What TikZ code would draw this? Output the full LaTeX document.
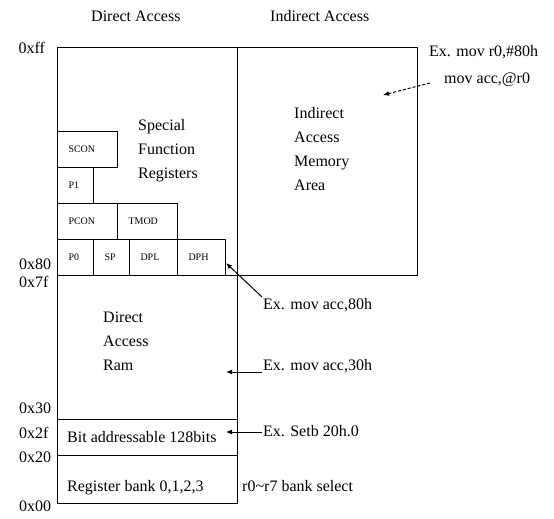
\documentclass[tikz,border=0pt]{standalone}
\usepackage{fontspec}
\setmainfont{Liberation Serif}
\usetikzlibrary{arrows.meta}
\begin{document}
\begin{tikzpicture}[x=1pt,y=-1pt,
  lbl/.style={anchor=base west,inner sep=0pt,font=\fontsize{16}{19}\selectfont},
  regbox/.style={draw,line width=1pt,anchor=north west,inner ysep=0pt,inner xsep=11pt,align=left,font=\fontsize{10}{12}\selectfont},
  area/.style={draw,line width=1pt,anchor=north west,inner sep=0pt},
  arr/.style={line width=1pt,-{Latex[length=6pt,width=5pt]}},
  darr/.style={line width=1pt,dashed,dash pattern=on 3pt off 2pt,-{Latex[length=6pt,width=5pt]}}]
\useasboundingbox (0,0) rectangle (554,519);
% main areas
\node[area,minimum width=180pt,minimum height=456pt] (left) at (57,47) {};
\node[area,minimum width=180pt,minimum height=228pt] (right) at (237,47) {};
\node[area,minimum width=180pt,minimum height=144pt] (dram) at (57,275) {};
\node[area,minimum width=180pt,minimum height=36pt] (bitad) at (57,419) {};
\node[area,minimum width=180pt,minimum height=48pt] (rbank) at (57,455) {};
% SFR boxes
\node[regbox,text width=38pt,minimum height=36pt] (scon) at (57,131) {SCON};
\node[regbox,text width=14pt,minimum height=36pt] (p1) at (57,167) {P1};
\node[regbox,text width=38pt,minimum height=36pt] (pcon) at (57,203) {PCON};
\node[regbox,text width=38pt,minimum height=36pt] (tmod) at (117,203) {TMOD};
\node[regbox,text width=14pt,minimum height=36pt] (p0) at (57,239) {P0};
\node[regbox,text width=14pt,minimum height=36pt] (sp) at (93,239) {SP};
\node[regbox,text width=26pt,minimum height=36pt] (dpl) at (129,239) {DPL};
\node[regbox,text width=26pt,minimum height=36pt] (dph) at (177,239) {DPH};
% titles
\node[lbl] (tdir) at (91,22) {Direct Access};
\node[lbl] (tind) at (270,22) {Indirect Access};
% addresses
\node[lbl] (aff) at (18.5,54) {0xff};
\node[lbl] (a80) at (19,269) {0x80};
\node[lbl] (a7f) at (19,287) {0x7f};
\node[lbl] (a30) at (19,413) {0x30};
\node[lbl] (a2f) at (19,438) {0x2f};
\node[lbl] (a20) at (19,462) {0x20};
\node[lbl] (a00) at (19,511) {0x00};
% area texts
\node[lbl] (sfr1) at (138,130) {Special};
\node[lbl] (sfr2) at (138,154) {Function};
\node[lbl] (sfr3) at (138,178) {Registers};
\node[lbl] (ind1) at (294,118) {Indirect};
\node[lbl] (ind2) at (294,142) {Access};
\node[lbl] (ind3) at (294,166) {Memory};
\node[lbl] (ind4) at (294,190) {Area};
\node[lbl] (dr1) at (103,322) {Direct};
\node[lbl] (dr2) at (103,346) {Access};
\node[lbl] (dr3) at (103,370) {Ram};
\node[lbl] (bit) at (67,442) {Bit addressable 128bits};
\node[lbl] (reg) at (67,491) {Register bank 0,1,2,3};
\node[lbl] (rsel) at (242,491) {r0\textasciitilde r7 bank select};
% examples
\node[lbl] (ex1) at (429,57) {Ex. mov r0,\#80h};
\node[lbl] (ex1b) at (444,84) {mov acc,@r0};
\node[lbl] (ex2) at (263,309) {Ex. mov acc,80h};
\node[lbl] (ex3) at (263,370) {Ex. mov acc,30h};
\node[lbl] (ex4) at (263,436) {Ex. Setb 20h.0};
% arrows
\coordinate (t1) at (383,95);
\coordinate (s1) at (430,83);
\coordinate (t2) at (226,263);
\coordinate (s2) at (262,297);
\coordinate (t3) at (226,372);
\coordinate (s3) at (262,372);
\coordinate (t4) at (226,432);
\coordinate (s4) at (262,432);
\draw[darr] (s1) -- (t1);
\draw[arr] (s2) -- (t2);
\draw[arr] (s3) -- (t3);
\draw[arr] (s4) -- (t4);
\end{tikzpicture}
\end{document}
